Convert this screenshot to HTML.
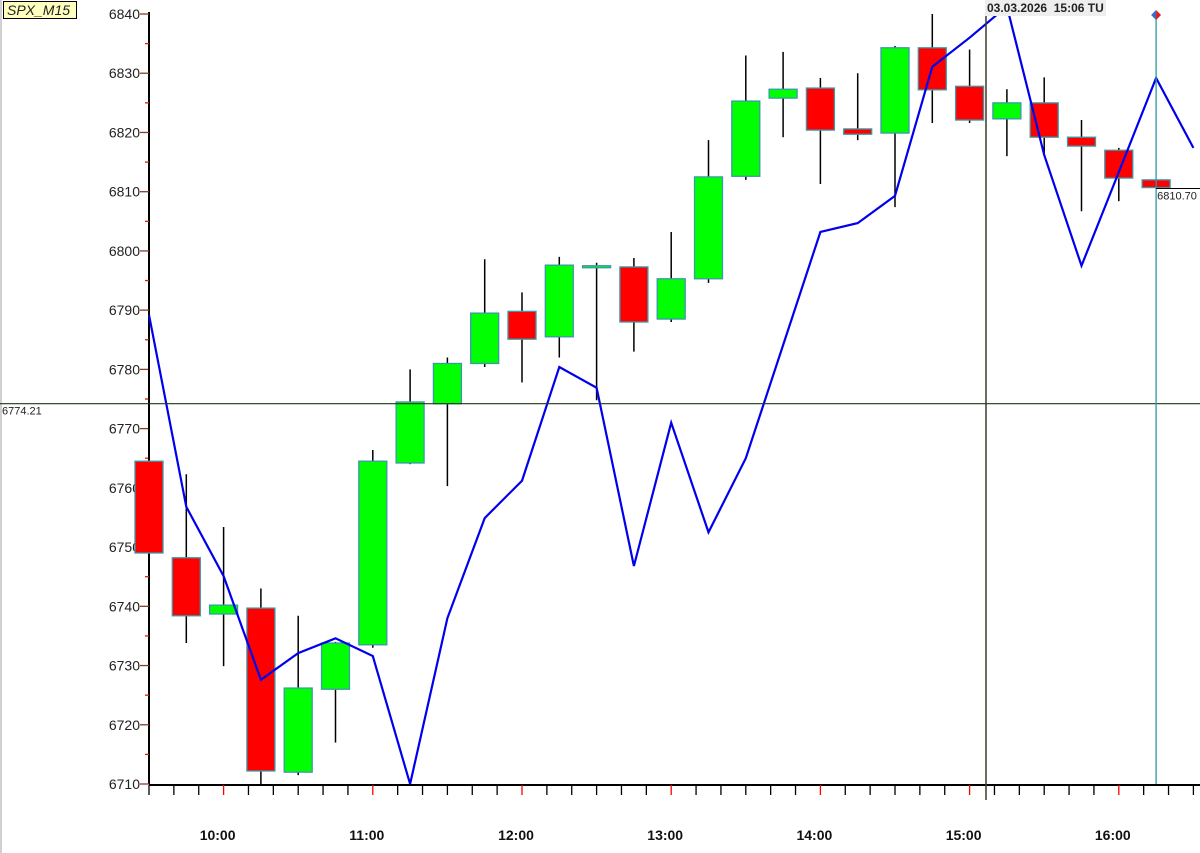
<!DOCTYPE html>
<html><head><meta charset="utf-8"><style>
html,body{margin:0;padding:0;background:#fff;}
body{width:1200px;height:853px;overflow:hidden;position:relative;font-family:"Liberation Sans",Arial,sans-serif;}
svg{position:absolute;left:0;top:0;}
</style></head><body>
<svg id="chart" width="1200" height="853"></svg>
<script>
const times=['09:30','09:45','10:00','10:15','10:30','10:45','11:00','11:15','11:30','11:45','12:00','12:15','12:30','12:45','13:00','13:15','13:30','13:45','14:00','14:15','14:30','14:45','15:00','15:15','15:30','15:45','16:00','16:15'];
const opens=[6764.5,6748.2,6738.7,6739.7,6712.0,6726.0,6733.5,6764.2,6774.2,6781.0,6789.8,6785.5,6797.5,6797.3,6788.5,6795.3,6812.6,6825.8,6827.5,6820.6,6819.9,6834.3,6827.8,6822.3,6825.0,6819.2,6817.0,6812.0];
const highs=[6785,6762.3,6753.4,6743.0,6738.4,6734.0,6766.4,6780.0,6782.0,6798.6,6793.0,6799.0,6798.0,6798.8,6803.2,6818.7,6833.0,6833.6,6829.2,6830.0,6834.6,6840.7,6834.0,6827.3,6829.3,6822.1,6817.4,6812.0];
const lows=[6746,6733.8,6729.9,6710.0,6711.5,6717.0,6733.0,6764.0,6760.3,6780.4,6777.8,6782.0,6774.8,6783.0,6788.0,6794.6,6812.0,6819.2,6811.3,6818.7,6807.4,6821.6,6821.6,6816.0,6816.0,6806.7,6808.4,6810.7];
const closes=[6749.0,6738.4,6740.2,6712.2,6726.2,6733.8,6764.5,6774.5,6781.0,6789.5,6785.1,6797.6,6797.5,6788.0,6795.3,6812.5,6825.3,6827.3,6820.4,6819.7,6834.3,6827.2,6822.1,6825.0,6819.2,6817.7,6812.3,6810.7];
const lineVals=[6789.2,6756.8,6745.1,6727.6,6732.1,6734.6,6731.6,6710.0,6738.0,6754.9,6761.2,6780.4,6776.9,6746.8,6771.0,6752.5,6765.0,6784.1,6803.2,6804.7,6809.3,6831.1,6836.0,6841.3,6816.2,6797.5,6813.3,6829.2,6817.4];
const yTicks=[6710,6720,6730,6740,6750,6760,6770,6780,6790,6800,6810,6820,6830,6840];
const hourLabels=['10:00','11:00','12:00','13:00','14:00','15:00','16:00'];
const crossPrice=6774.21, lastPrice=6810.70;

const NS='http://www.w3.org/2000/svg';
const svg=document.getElementById('chart');
const X0=149,STEP=37.3,PX=5.923,YB=784;
const xs=i=>X0+i*STEP;
const ys=v=>YB-(v-6710)*PX;
function el(t,a,p){const e=document.createElementNS(NS,t);for(const k in a)e.setAttribute(k,a[k]);(p||svg).appendChild(e);return e;}

const lb=el('line',{x1:1,y1:0,x2:1,y2:853,stroke:'#a0a0a0','stroke-width':1});



const defs=el('defs',{});
const cp=el('clipPath',{id:'plot'},defs);
el('rect',{x:0,y:14,width:1200,height:772},cp);

const ya=el('line',{x1:X0,y1:12,x2:X0,y2:YB,stroke:'#000','stroke-width':2});


for(let v=6710;v<=6840;v+=5){
  const major=v%10===0;
  const t=el('line',{x1:major?X0-9:X0-4,y1:ys(v),x2:X0,y2:ys(v),stroke:major?'#8b3a2a':'#cc2200','stroke-width':1.3});
  
  
}
yTicks.forEach(v=>{
  const t=el('text',{x:140,y:ys(v)+5,'text-anchor':'end','font-size':14,fill:'#222'});
  t.textContent=v;
  
  
});

const xa=el('line',{x1:X0,y1:YB+1,x2:1200,y2:YB+1,stroke:'#000','stroke-width':2});


const TSTEP=STEP*2/3;
for(let k=0;X0+k*TSTEP<1200;k++){
  const x=X0+k*TSTEP;const hour=k%6===3;
  const t=el('line',{x1:x,y1:YB+1,x2:x,y2:YB+11,stroke:hour?'#ff0000':'#000','stroke-width':1.3});
  
  
}
hourLabels.forEach((h,i)=>{
  const t=el('text',{x:X0+(2+4*i)*STEP-6,y:840,'text-anchor':'middle','font-size':14,'font-weight':'bold',fill:'#111'});
  t.textContent=h;
  
  
});

const g=el('g',{'clip-path':'url(#plot)'});
times.forEach((tm,i)=>{
  const x=xs(i);
  const w=el('line',{x1:x,y1:ys(highs[i]),x2:x,y2:ys(lows[i]),stroke:'#000','stroke-width':1.5},g);
  
  
  const up=closes[i]>=opens[i];
  const top=ys(Math.max(opens[i],closes[i])),bot=ys(Math.min(opens[i],closes[i]));
  const b=el('rect',{x:x-14,y:top,width:28,height:Math.max(bot-top,2),fill:up?'#00ff00':'#ff0000',stroke:'#3a9aa8','stroke-width':1.3},g);
  
  
});

const pts=lineVals.map((v,i)=>xs(i)+','+ys(v)).join(' ');
const pl=el('polyline',{points:pts,fill:'none',stroke:'#0000ee','stroke-width':2.2,'clip-path':'url(#plot)'});



const ch=el('line',{x1:0,y1:ys(crossPrice),x2:1200,y2:ys(crossPrice),stroke:'#203a10','stroke-width':1.2});


const cv=el('line',{x1:986,y1:0,x2:986,y2:800,stroke:'#3a3a2a','stroke-width':1.5});


const cpl=el('text',{x:2,y:ys(crossPrice)+11,'font-size':11,fill:'#222'});
cpl.textContent=crossPrice.toFixed(2);


const db=el('rect',{x:985,y:0,width:121,height:16,fill:'#eeeeee'});


const dt=el('text',{x:987,y:12,'font-size':12,'font-weight':'bold',fill:'#222'});
dt.textContent='03.03.2026  15:06 TU';
dt.setAttribute('style','white-space:pre');



const cur=xs(27);
const tl=el('line',{x1:cur,y1:14,x2:cur,y2:YB,stroke:'#2a9aa0','stroke-width':1.3});


const d1=el('polygon',{points:`${cur-5},15 ${cur},10 ${cur},20`,fill:'#3a6ad0'});


const d2=el('polygon',{points:`${cur+5},15 ${cur},10 ${cur},20`,fill:'#e02020'});


const lp=el('line',{x1:cur,y1:ys(lastPrice)+1,x2:1200,y2:ys(lastPrice)+1,stroke:'#000','stroke-width':1});


const lpt=el('text',{x:cur+1,y:ys(lastPrice)+12,'font-size':11,fill:'#222'});
lpt.textContent=lastPrice.toFixed(2);



const sb=el('rect',{x:3.5,y:1.5,width:73,height:17,fill:'#ffffc0',stroke:'#000','stroke-width':1});


const st=el('text',{x:7,y:15,'font-size':14,'font-style':'italic',fill:'#222'});
st.textContent='SPX_M15';


</script>
</body></html>
